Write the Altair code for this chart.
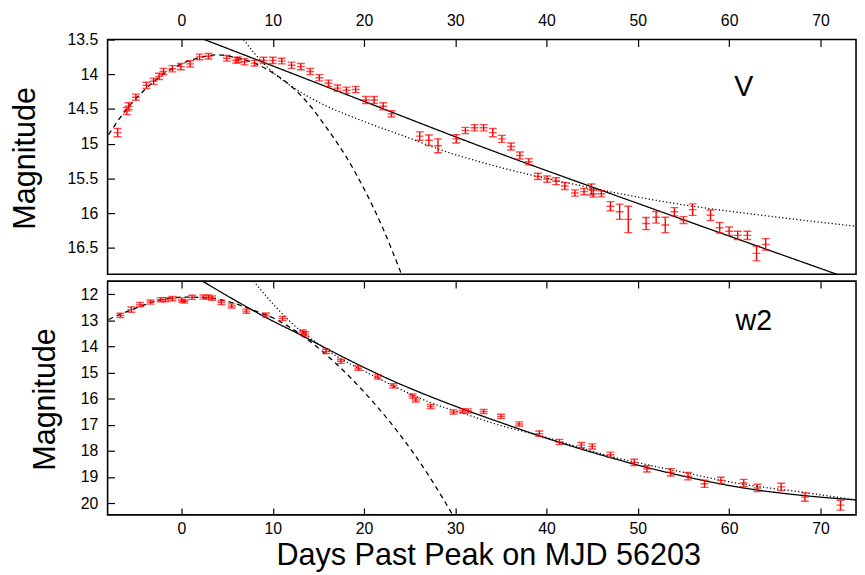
import altair as alt
import pandas as pd

FONT = "Liberation Sans"
RED = "#ff0000"

# ---------------- data: V band ----------------
v_day = [-7.0, -6.0, -5.8, -5.0, -3.85, -3.06, -2.45, -1.98, -1.0, -0.07, 0.94, 1.98, 2.95,
         4.97, 5.98, 6.2, 6.9, 8.0, 9.0, 10.0, 10.98, 12.06, 13.07, 14.1, 15.1, 16.1, 17.1,
         18.07, 19.08, 20.2, 21.1, 22.1, 23.0, 26.1, 27.1, 28.1, 30.1, 31.1, 32.1, 33.1,
         34.1, 35.1, 36.1, 37.07, 38.05, 39.06, 40.06, 41.04, 42.0, 43.1, 44.1, 44.9, 45.1,
         46.0, 47.0, 48.0, 48.95, 50.9, 52.0, 53.0, 54.0, 55.0, 56.0, 57.96, 58.96, 60.0,
         60.94, 62.0, 63.0, 64.0]
v_mag = [14.84, 14.53, 14.46, 14.33, 14.16, 14.10, 14.03, 13.96, 13.92, 13.89, 13.85, 13.75, 13.74,
         13.77, 13.80, 13.79, 13.82, 13.84, 13.80, 13.80, 13.81, 13.87, 13.89, 13.96, 14.05, 14.13, 14.20,
         14.23, 14.22, 14.37, 14.37, 14.46, 14.57, 14.89, 14.95, 15.03, 14.93, 14.81, 14.77, 14.77,
         14.84, 14.93, 15.04, 15.17, 15.26, 15.47, 15.51, 15.54, 15.61, 15.71, 15.69, 15.66, 15.72,
         15.72, 15.90, 15.98, 16.09, 16.15, 16.06, 16.17, 15.98, 16.10, 15.95, 16.03, 16.21, 16.26,
         16.32, 16.32, 16.58, 16.45]
v_err = [0.06, 0.05, 0.05, 0.045, 0.045, 0.045, 0.045, 0.045, 0.045, 0.045, 0.045, 0.04, 0.04,
         0.04, 0.04, 0.04, 0.045, 0.04, 0.045, 0.045, 0.04, 0.045, 0.045, 0.045, 0.045, 0.045, 0.045,
         0.045, 0.045, 0.05, 0.05, 0.05, 0.045, 0.06, 0.075, 0.1, 0.06, 0.045, 0.045, 0.045,
         0.06, 0.05, 0.05, 0.05, 0.045, 0.045, 0.045, 0.05, 0.05, 0.045, 0.045, 0.08, 0.05,
         0.045, 0.066, 0.11, 0.19, 0.088, 0.083, 0.11, 0.06, 0.05, 0.083, 0.076, 0.076, 0.06,
         0.06, 0.06, 0.107, 0.083]

# fitted curves
v_dash_day = [-8, -6, -4, -2, 0, 2, 4, 6, 8, 10, 12, 14, 16, 18, 20, 22, 24.1]
v_dash_mag = [14.87, 14.50, 14.22, 14.00, 13.85, 13.76, 13.72, 13.76, 13.84, 13.98, 14.17,
              14.44, 14.79, 15.18, 15.65, 16.20, 16.88]
v_solid_day = [2.5, 10, 20, 32.4, 50, 71.8]
v_solid_mag = [13.50, 13.88, 14.39, 15.02, 15.86, 16.88]
v_dot_day = [6.8, 8, 10, 12, 15, 20, 25, 28, 34.6, 43.2, 54, 64.8, 74]
v_dot_mag = [13.50, 13.70, 13.97, 14.17, 14.40, 14.68, 14.92, 15.07, 15.33, 15.59, 15.86, 16.05, 16.19]

# ---------------- data: w2 band ----------------
w2_day = [-6.7, -5.5, -4.55, -3.4, -2.3, -1.75, -1.0, 0.05, 0.3, 1.15, 2.4, 2.95, 3.35, 4.35,
          5.5, 7.1, 9.25, 11.08, 13.3, 13.55, 15.84, 17.46, 19.36, 21.5, 23.2, 25.3, 25.67,
          27.3, 29.8, 30.8, 31.4, 33.1, 35.0, 37.0, 39.2, 41.4, 43.8, 45.0, 47.0, 49.6, 51.0,
          53.6, 55.5, 57.3, 59.1, 61.6, 63.1, 65.7, 68.3, 72.2]
w2_mag = [12.81, 12.59, 12.40, 12.30, 12.21, 12.21, 12.17, 12.22, 12.28, 12.12, 12.11, 12.11, 12.15, 12.32,
          12.45, 12.65, 12.80, 12.93, 13.45, 13.52, 14.19, 14.57, 14.83, 15.17, 15.51, 15.90, 16.05,
          16.30, 16.51, 16.47, 16.47, 16.49, 16.68, 16.97, 17.34, 17.66, 17.78, 17.83, 18.15, 18.44, 18.69,
          18.82, 18.97, 19.26, 19.13, 19.23, 19.42, 19.38, 19.77, 20.08]
w2_err = [0.08, 0.1, 0.08, 0.08, 0.08, 0.08, 0.08, 0.08, 0.06, 0.08, 0.08, 0.08, 0.08, 0.08,
          0.08, 0.08, 0.08, 0.08, 0.08, 0.08, 0.08, 0.08, 0.08, 0.08, 0.08, 0.08, 0.08,
          0.08, 0.08, 0.08, 0.08, 0.08, 0.08, 0.08, 0.1, 0.1, 0.1, 0.1, 0.1, 0.12, 0.12,
          0.14, 0.14, 0.14, 0.12, 0.14, 0.14, 0.14, 0.16, 0.19]

w2_dash_day = [-8, -5, -2.2, 0.4, 2.9, 5.8, 7.6, 10.1, 13, 16.6, 20.2, 23.8, 27.4, 29.7]
w2_dash_mag = [12.97, 12.53, 12.21, 12.11, 12.14, 12.35, 12.58, 12.92, 13.53, 14.55, 15.82, 17.32,
               19.12, 20.45]
w2_solid_day = [2.2, 6, 9.4, 13, 16.6, 20.2, 23.8, 27.4, 31, 34.6, 39.6, 46.8, 54, 61.2, 68.4, 74]
w2_solid_mag = [11.48, 12.26, 12.92, 13.55, 14.21, 14.84, 15.42, 15.94, 16.42, 16.87, 17.47, 18.24,
                18.89, 19.40, 19.72, 19.88]
w2_dot_day = [7.9, 10.1, 12.2, 14.5, 16.6, 20.2, 23.8, 27.4, 31, 34.6, 39.6, 46.8, 54, 61.2, 68.4, 74]
w2_dot_mag = [11.50, 12.40, 13.15, 13.78, 14.29, 14.98, 15.61, 16.17, 16.58, 16.99, 17.45, 18.19,
              18.75, 19.26, 19.60, 19.89]

x_ticks = [0, 10, 20, 30, 40, 50, 60, 70]
v_ticks = [13.5, 14, 14.5, 15, 15.5, 16, 16.5]
w2_ticks = [12, 13, 14, 15, 16, 17, 18, 19, 20]

x_title = "Days Past Peak on MJD 56203"
y_title = "Magnitude"
labels = {"V": (61.6, 14.19), "w2": (62.7, 13.03)}

XDOM = [-8.1, 73.9]
W = 759


def x_axis(orient, show_labels, with_title=False):
    kw = dict(orient=orient, values=x_ticks, labels=show_labels, domain=False, grid=False,
              ticks=True, tickSize=7, offset=-7, tickColor="black", tickWidth=1.2,
              labelFont=FONT, labelFontSize=16, labelColor="black", format="d",
              labelPadding=11 if orient == "top" else 6)
    if with_title:
        kw.update(titleFont=FONT, titleFontSize=31, titleFontWeight="normal",
                  titleColor="black", titlePadding=4, titleX=386, titleAlign="center")
    return alt.Axis(**kw)


def y_axis(values, fmt, title_x, height):
    return alt.Axis(values=values, format=fmt, domain=False, grid=False, ticks=True,
                    tickSize=7, offset=-7, tickColor="black", tickWidth=1.2,
                    labelFont=FONT, labelFontSize=16, labelColor="black", labelPadding=10,
                    titleFont=FONT, titleFontSize=31, titleFontWeight="normal",
                    titleColor="black", titleAngle=270, titleBaseline="middle",
                    titleAlign="center", titleX=title_x, titleY=height / 2 + 1)


def panel(day, mag, err, curves, label, ydom, yticks, yfmt, height, title_x, bottom):
    pts = pd.DataFrame({"day": day, "mag": mag,
                        "lo": [m - e for m, e in zip(mag, err)],
                        "hi": [m + e for m, e in zip(mag, err)]})
    xs = alt.Scale(domain=XDOM, nice=False, zero=False)
    ys = alt.Scale(domain=ydom, nice=False, zero=False, reverse=True)
    yax = y_axis(yticks, yfmt, title_x, height)

    if bottom:
        xenc = alt.X("day:Q", scale=xs, title=x_title, axis=x_axis("bottom", True, True))
    else:
        xenc = alt.X("day:Q", scale=xs, title="", axis=x_axis("top", True))

    def Y(field):
        return alt.Y(field, scale=ys, title=y_title, axis=yax)

    layers = []
    for cd, cm, dash in curves:
        cdf = pd.DataFrame({"day": cd, "mag": cm})
        layers.append(
            alt.Chart(cdf).mark_line(color="black", strokeWidth=1.3, strokeDash=dash,
                                     interpolate="monotone", clip=True)
            .encode(x=xenc, y=Y("mag:Q"))
        )

    base = alt.Chart(pts)
    rules = base.mark_rule(color=RED, strokeWidth=1.4, clip=True).encode(
        x=xenc, y=Y("lo:Q"), y2="hi:Q")
    tick_kw = dict(color=RED, orient="horizontal", size=8, thickness=1.4, clip=True)
    cap_hi = base.mark_tick(**tick_kw).encode(x=xenc, y=Y("hi:Q"))
    center = base.mark_tick(**tick_kw).encode(x=xenc, y=Y("mag:Q"))

    lx, ly = labels[label]
    ldf = pd.DataFrame({"day": [lx], "mag": [ly], "txt": [label]})
    txt = alt.Chart(ldf).mark_text(font=FONT, fontSize=29, color="black").encode(
        x=xenc, y=Y("mag:Q"), text="txt:N")

    inner = alt.layer(*layers, rules, cap_hi, center, txt)

    if bottom:
        # lower caps carry a second (top) x axis: ticks only
        x_top = alt.X("day:Q", scale=xs, title="", axis=x_axis("top", False))
        cap_lo = base.mark_tick(**tick_kw).encode(x=x_top, y=Y("lo:Q"))
    else:
        cap_lo = base.mark_tick(**tick_kw).encode(x=xenc, y=Y("lo:Q"))

    return alt.layer(inner, cap_lo).properties(width=W, height=height)


top = panel(v_day, v_mag, v_err,
            [(v_dash_day, v_dash_mag, [5, 4]), (v_solid_day, v_solid_mag, [1, 0]),
             (v_dot_day, v_dot_mag, [1.2, 2.4])],
            "V", [13.5, 16.88], v_ticks, "~g", 238, -90.5, False)
bot = panel(w2_day, w2_mag, w2_err,
            [(w2_dash_day, w2_dash_mag, [5, 4]), (w2_solid_day, w2_solid_mag, [1, 0]),
             (w2_dot_day, w2_dot_mag, [1.2, 2.4])],
            "w2", [11.5, 20.45], w2_ticks, "d", 237, -69.5, True)

chart = alt.vconcat(top, bot, spacing=4).properties(
    padding={"left": 0, "top": 0, "right": 0, "bottom": 0},
    background="white",
).configure_view(stroke="black", strokeWidth=1.6)

chart.save("out.html", embed_options={"renderer": "svg", "actions": False})
